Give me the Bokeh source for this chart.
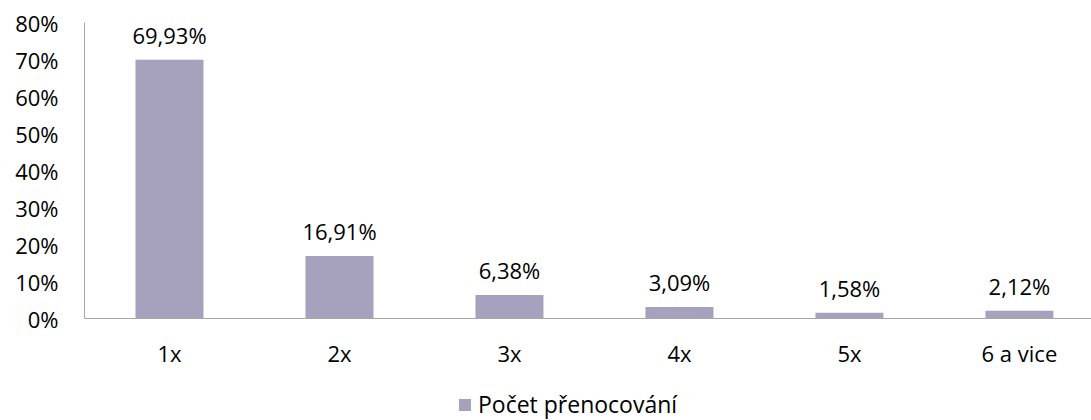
from bokeh.plotting import figure
from bokeh.layouts import column
from bokeh.models import ColumnDataSource, FixedTicker, Range1d, Legend, LegendItem
from bokeh.core.properties import value
from bokeh.embed import file_html
from bokeh.resources import INLINE

categories = ["1x", "2x", "3x", "4x", "5x", "6 a vice"]
values = [69.93, 16.91, 6.38, 3.09, 1.58, 2.12]
y_ticks = [0, 10, 20, 30, 40, 50, 60, 70, 80]
series_name = "Počet přenocování"

FONT = "Open Sans"
BAR = "#A6A1BC"
AXIS = "#A6A6A6"
FS = "22px"

xs = [i + 0.5 for i in range(len(categories))]
labels = [f"{v:.2f}".replace(".", ",") + "%" for v in values]
src = ColumnDataSource(dict(x=xs, top=values, label=labels))

p = figure(frame_width=1007, frame_height=296, output_backend="svg", toolbar_location=None,
           x_range=Range1d(0, 5.924), y_range=Range1d(0, 80))
p.min_border_left = 84
p.min_border_right = 0
p.min_border_top = 22
p.min_border_bottom = 60
p.outline_line_color = None
p.grid.visible = False
p.background_fill_color = "white"
p.border_fill_color = "white"

p.vbar(x="x", top="top", width=0.4, bottom=0, source=src, fill_color=BAR, line_color=None)
p.text(x="x", y="top", text="label", source=src, text_align="center", text_baseline="bottom",
       y_offset=-10, text_font=value(FONT), text_font_size=FS, text_color="#000000")

p.yaxis.ticker = FixedTicker(ticks=y_ticks)
p.yaxis.major_label_overrides = {t: f"{t}%" for t in y_ticks}
p.yaxis.major_tick_line_color = None
p.yaxis.major_tick_out = 0
p.yaxis.major_tick_in = 0
p.yaxis.minor_tick_line_color = None
p.yaxis.axis_line_color = AXIS
p.yaxis.major_label_text_font = FONT
p.yaxis.major_label_text_font_size = FS
p.yaxis.major_label_text_color = "#000000"
p.yaxis.major_label_standoff = 26

p.xaxis.ticker = FixedTicker(ticks=xs)
p.xaxis.major_label_overrides = {x: c for x, c in zip(xs, categories)}
p.xaxis.major_tick_line_color = None
p.xaxis.major_tick_out = 0
p.xaxis.major_tick_in = 0
p.xaxis.minor_tick_line_color = None
p.xaxis.axis_line_color = AXIS
p.xaxis.major_label_text_font = FONT
p.xaxis.major_label_text_font_size = FS
p.xaxis.major_label_text_color = "#000000"
p.xaxis.major_label_standoff = 19

# legend strip underneath the chart (its frame is aligned with the chart's frame)
lg = figure(width=1091, height=42, output_backend="svg", toolbar_location=None,
            x_axis_type=None, y_axis_type=None, x_range=Range1d(0, 1), y_range=Range1d(0, 1),
            min_border=0)
lg.outline_line_color = None
lg.grid.visible = False
lg.border_fill_color = "white"
lg.background_fill_color = "white"
lr = lg.vbar(x="x", top="top", width=0.4, bottom=0, source=src, fill_color=BAR, line_color=None)
lr.visible = False
legend = Legend(items=[LegendItem(label=series_name, renderers=[lr])], location=(373, 0),
                orientation="horizontal", border_line_color=None, background_fill_alpha=0,
                label_text_font=FONT, label_text_font_size="23px", label_text_color="#000000",
                glyph_width=15, glyph_height=15, label_standoff=6, padding=0, margin=0,
                label_height=15, inactive_fill_alpha=0, click_policy="none")
lg.add_layout(legend, "center")

layout = column(p, lg, spacing=0)
open("out.html", "w").write(file_html(layout, INLINE))
